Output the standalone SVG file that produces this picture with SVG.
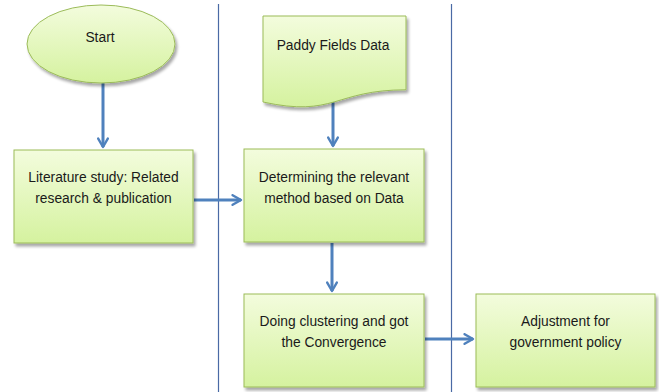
<svg xmlns="http://www.w3.org/2000/svg" width="659" height="392" viewBox="0 0 659 392">
  <defs>
    <linearGradient id="fillGreen" x1="0" y1="0" x2="0" y2="1">
      <stop offset="0" stop-color="#f3fcdd"/>
      <stop offset="1" stop-color="#d5f29f"/>
    </linearGradient>
    <filter id="shadow" x="-10%" y="-10%" width="125%" height="130%">
      <feGaussianBlur in="SourceAlpha" stdDeviation="1.5"/>
      <feOffset dx="1.5" dy="2.5" result="b"/>
      <feComponentTransfer><feFuncA type="linear" slope="0.35"/></feComponentTransfer>
      <feMerge><feMergeNode/><feMergeNode in="SourceGraphic"/></feMerge>
    </filter>
    <marker id="arrow" viewBox="0 0 10 10" refX="8" refY="5" markerWidth="4" markerHeight="4" orient="auto" markerUnits="strokeWidth">
      <path d="M1,1 L8,5 L1,9" fill="none" stroke="#4f81bd" stroke-width="2" stroke-linecap="round" stroke-linejoin="round"/>
    </marker>
  </defs>
  <style>
    .shape { fill: url(#fillGreen); stroke: #9bbb59; stroke-width: 1; filter: url(#shadow); }
    .label { font-family: "Liberation Sans", Arial, sans-serif; font-size: 13.8px; fill: #1a1a1a; text-anchor: middle; }
    .lane { stroke: #4a6aa5; stroke-width: 1.2; fill: none; }
    .flow { stroke: #4f81bd; stroke-width: 3; fill: none; marker-end: url(#arrow); }
  </style>
  <rect width="659" height="392" fill="#ffffff"/>

  <!-- lane separators -->
  <g id="lanes">
    <line class="lane" x1="218.5" y1="4" x2="218.5" y2="392"/>
    <line class="lane" x1="451.5" y1="4" x2="451.5" y2="392"/>
  </g>

  <!-- connectors -->
  <g id="connectors">
    <line class="flow" x1="103" y1="83" x2="103" y2="147"/>
    <line class="flow" x1="333" y1="100" x2="333" y2="146"/>
    <line class="flow" x1="194" y1="200" x2="241" y2="200"/>
    <line class="flow" x1="332" y1="243" x2="332" y2="291"/>
    <line class="flow" x1="425" y1="339" x2="473" y2="339"/>
  </g>

  <g id="start">
    <ellipse class="shape" cx="101" cy="44" rx="74" ry="39"/>
    <text class="label" x="100" y="42">Start</text>
  </g>

  <g id="paddy">
    <path class="shape" d="M263,16 H406 V89.8 C334.5,89.8 334.5,117.8 263,102 Z"/>
    <text class="label" x="333" y="50">Paddy Fields Data</text>
  </g>

  <g id="literature">
    <rect class="shape" x="14" y="150" width="179" height="93"/>
    <text class="label" x="103.5" y="182">Literature study: Related</text>
    <text class="label" x="103.5" y="203">research &amp; publication</text>
  </g>

  <g id="method">
    <rect class="shape" x="244" y="149" width="180" height="93"/>
    <text class="label" x="334" y="182">Determining the relevant</text>
    <text class="label" x="334" y="203">method based on Data</text>
  </g>

  <g id="clustering">
    <rect class="shape" x="244" y="294" width="180" height="93"/>
    <text class="label" x="334" y="326">Doing clustering and got</text>
    <text class="label" x="334" y="347">the Convergence</text>
  </g>

  <g id="adjustment">
    <rect class="shape" x="476" y="294" width="179" height="93"/>
    <text class="label" x="565.5" y="326">Adjustment for</text>
    <text class="label" x="565.5" y="347">government policy</text>
  </g>
</svg>
